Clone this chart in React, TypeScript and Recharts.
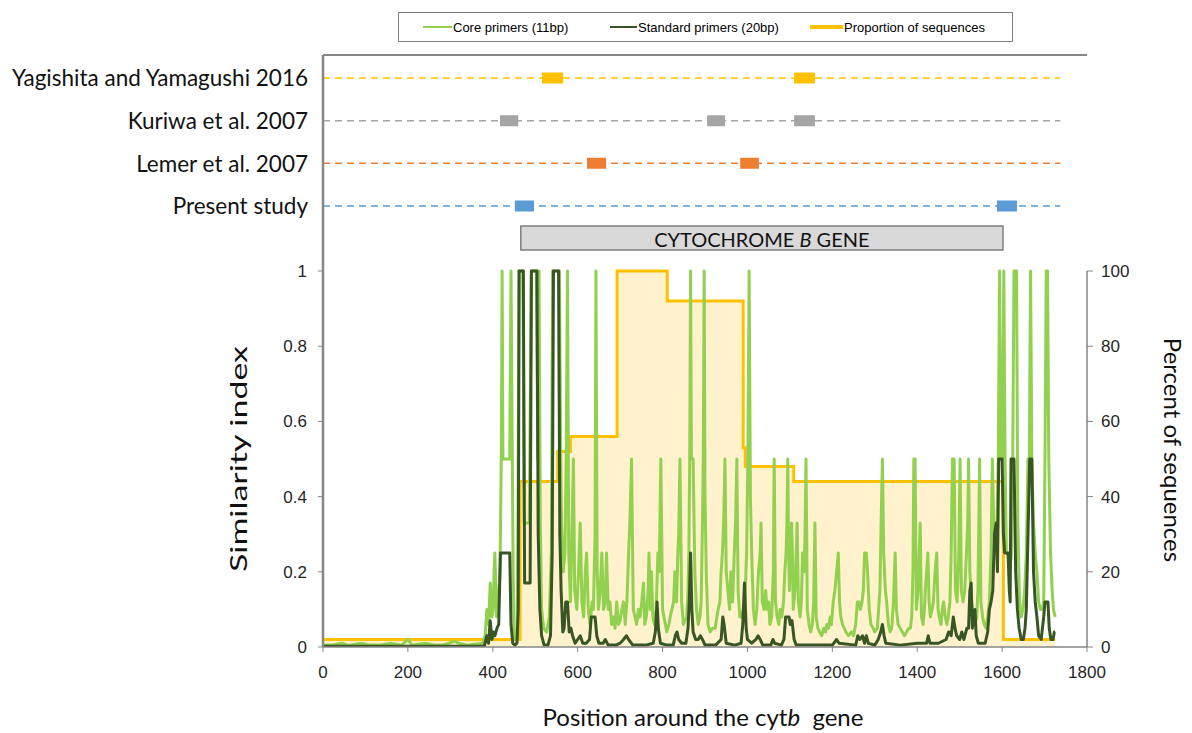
import React from "react";
import {
  ComposedChart,
  Area,
  Line,
  XAxis,
  YAxis,
  ReferenceArea,
  ReferenceLine,
} from "recharts";

// upper panel: primer sets, top to bottom
const studies = [
  "Yagishita and Yamagushi 2016",
  "Kuriwa et al. 2007",
  "Lemer et al. 2007",
  "Present study",
];

// primer binding sites [start, end] (bp) per study
const primerSites: [number, number][][] = [
  [[516, 566], [1110, 1159]],
  [[417, 460], [905, 947], [1110, 1159]],
  [[622, 667], [983, 1027]],
  [[452, 497], [1588, 1635]],
];

const alignmentLength = 1737;
const cytbGene: [number, number] = [466, 1602];

const seriesNames = [
  "Core primers (11bp)",
  "Standard primers (20bp)",
  "Proportion of sequences",
];

const positionTicks = [0, 200, 400, 600, 800, 1000, 1200, 1400, 1600, 1800];
const similarityTicks = [0, 0.2, 0.4, 0.6, 0.8, 1];
const percentTicks = [0, 20, 40, 60, 80, 100];

// percent of sequences covering each position (step changes)
const proportion: [number, number][] = [
  [0, 2], [464, 44], [553, 52], [583, 56], [693, 100], [811, 92],
  [990, 53], [995, 48], [1109, 44], [1603, 2], [1725, 2],
];

// similarity index, core primers (11bp)
const corePrimers: [number, number][] = [
  [0, 0.005], [20, 0.005], [45, 0.01], [60, 0.004], [90, 0.01], [110, 0.005],
  [140, 0.006], [160, 0.01], [185, 0.005], [200, 0.02], [210, 0.005], [240, 0.01],
  [265, 0.005], [285, 0.006], [310, 0.015], [320, 0.01], [340, 0.005], [360, 0.008],
  [376, 0.01], [382, 0.03], [386, 0.1], [390, 0.06], [394, 0.17], [398, 0.08],
  [401, 0.1], [403, 0.2], [405, 0.25], [409, 0.08], [413, 0.12], [417, 0.2],
  [420, 0.5], [422, 1], [424, 0.5], [440, 0.5], [443, 1], [446, 0.5], [448, 0.2],
  [451, 0.02], [458, 0.02], [462, 1], [471, 1], [474, 0.33], [486, 0.33], [491, 1],
  [503, 1], [506, 0.5], [509, 1], [512, 0.33], [515, 0.1], [520, 0.05], [527, 0.04],
  [533, 0.08], [538, 0.25], [541, 1], [557, 1], [560, 0.5], [562, 0.33], [566, 0.2],
  [570, 0.25], [573, 0.5], [576, 1], [579, 0.25], [583, 0.12], [587, 0.33], [590, 0.5],
  [593, 0.15], [598, 0.1], [602, 0.2], [606, 0.33], [610, 0.12], [614, 0.08], [618, 0.2],
  [621, 0.25], [625, 0.1], [629, 0.06], [634, 0.12], [637, 0.1], [641, 0.3], [643, 1],
  [646, 0.2], [649, 0.1], [653, 0.15], [657, 0.25], [661, 0.1], [665, 0.12], [668, 0.25],
  [672, 0.1], [676, 0.12], [680, 0.06], [684, 0.08], [688, 0.05], [692, 0.12], [696, 0.06],
  [700, 0.07], [704, 0.1], [708, 0.12], [712, 0.06], [716, 0.12], [720, 0.25], [723, 0.33],
  [727, 0.5], [731, 0.1], [735, 0.08], [739, 0.06], [743, 0.1], [747, 0.08], [751, 0.12],
  [755, 0.17], [758, 0.06], [762, 0.08], [766, 0.15], [768, 0.25], [771, 0.1], [774, 0.2],
  [777, 0.08], [781, 0.06], [785, 0.1], [789, 0.25], [792, 0.2], [796, 0.5], [800, 0.1],
  [805, 0.07], [810, 0.04], [815, 0.06], [818, 0.08], [822, 0.1], [826, 0.12], [829, 0.2],
  [833, 0.12], [836, 0.25], [838, 0.3], [841, 0.5], [845, 0.12], [849, 0.06], [853, 0.07],
  [857, 0.08], [860, 0.15], [862, 0.25], [864, 0.5], [866, 1], [868, 0.5], [872, 0.5],
  [876, 0.2], [880, 0.1], [884, 0.06], [888, 0.08], [891, 0.12], [894, 0.33], [896, 0.5],
  [898, 1], [900, 0.4], [903, 0.2], [907, 0.06], [912, 0.04], [918, 0.05], [924, 0.05],
  [928, 0.08], [931, 0.1], [935, 0.12], [938, 0.2], [941, 0.25], [944, 0.33], [947, 0.5],
  [950, 0.2], [954, 0.15], [958, 0.1], [961, 0.2], [965, 0.12], [969, 0.25], [972, 0.33],
  [975, 0.5], [978, 0.15], [982, 0.08], [986, 0.08], [990, 0.1], [994, 0.12], [998, 0.25],
  [1001, 0.5], [1004, 1], [1007, 0.4], [1010, 0.25], [1014, 0.1], [1018, 0.06], [1022, 0.1],
  [1026, 0.2], [1030, 0.25], [1032, 0.33], [1035, 0.12], [1039, 0.1], [1043, 0.15],
  [1046, 0.1], [1050, 0.12], [1053, 0.06], [1057, 0.08], [1061, 0.2], [1063, 0.5],
  [1066, 0.12], [1070, 0.08], [1074, 0.06], [1077, 0.1], [1081, 0.08], [1085, 0.12],
  [1088, 0.2], [1091, 0.25], [1093, 0.33], [1095, 0.5], [1097, 0.25], [1099, 0.15],
  [1102, 0.25], [1104, 0.33], [1106, 0.25], [1108, 0.1], [1112, 0.15], [1115, 0.25],
  [1117, 0.33], [1120, 0.12], [1124, 0.08], [1127, 0.12], [1130, 0.25], [1134, 0.2],
  [1136, 0.33], [1138, 0.5], [1141, 0.1], [1145, 0.06], [1149, 0.04], [1153, 0.06],
  [1156, 0.12], [1159, 0.33], [1162, 0.08], [1166, 0.05], [1170, 0.04], [1175, 0.03],
  [1180, 0.05], [1184, 0.04], [1187, 0.06], [1191, 0.05], [1195, 0.08], [1198, 0.06],
  [1202, 0.12], [1206, 0.15], [1210, 0.2], [1214, 0.25], [1217, 0.12], [1220, 0.08],
  [1224, 0.06], [1228, 0.05], [1232, 0.04], [1238, 0.03], [1245, 0.04], [1250, 0.03],
  [1255, 0.06], [1259, 0.12], [1263, 0.12], [1266, 0.1], [1270, 0.12], [1273, 0.15],
  [1276, 0.25], [1280, 0.25], [1283, 0.2], [1287, 0.1], [1291, 0.06], [1296, 0.05],
  [1300, 0.04], [1306, 0.05], [1309, 0.1], [1312, 0.15], [1315, 0.33], [1318, 0.5],
  [1321, 0.25], [1325, 0.15], [1328, 0.12], [1332, 0.06], [1336, 0.04], [1340, 0.05],
  [1344, 0.12], [1348, 0.25], [1351, 0.1], [1355, 0.06], [1360, 0.05], [1365, 0.04],
  [1370, 0.03], [1375, 0.04], [1380, 0.05], [1384, 0.05], [1387, 0.08], [1390, 0.2],
  [1392, 0.5], [1395, 0.5], [1398, 0.1], [1402, 0.15], [1405, 0.25], [1407, 0.33],
  [1410, 0.08], [1414, 0.06], [1417, 0.1], [1419, 0.15], [1422, 0.2], [1425, 0.25],
  [1428, 0.12], [1431, 0.08], [1435, 0.1], [1438, 0.12], [1442, 0.2], [1446, 0.25],
  [1449, 0.1], [1452, 0.08], [1456, 0.06], [1459, 0.1], [1462, 0.12], [1466, 0.08],
  [1470, 0.06], [1473, 0.08], [1477, 0.12], [1480, 0.25], [1483, 0.5], [1487, 0.5],
  [1490, 0.15], [1494, 0.12], [1498, 0.25], [1501, 0.5], [1504, 0.15], [1508, 0.12],
  [1512, 0.15], [1516, 0.25], [1519, 0.33], [1521, 0.5], [1524, 0.2], [1528, 0.12],
  [1532, 0.08], [1536, 0.06], [1540, 0.08], [1543, 0.15], [1547, 0.5], [1550, 0.12],
  [1554, 0.08], [1558, 0.06], [1562, 0.05], [1566, 0.08], [1570, 0.12], [1574, 0.25],
  [1577, 0.5], [1580, 0.33], [1584, 0.25], [1588, 0.33], [1591, 0.5], [1594, 1],
  [1597, 0.5], [1601, 0.5], [1604, 1], [1607, 0.5], [1610, 0.25], [1614, 0.25],
  [1618, 0.2], [1622, 0.25], [1625, 0.5], [1628, 1], [1634, 1], [1637, 0.33],
  [1641, 0.12], [1645, 0.08], [1649, 0.1], [1653, 0.15], [1657, 0.25], [1661, 0.5],
  [1664, 0.5], [1667, 1], [1670, 0.5], [1674, 0.33], [1678, 0.25], [1682, 0.2],
  [1686, 0.12], [1690, 0.1], [1694, 0.1], [1698, 0.12], [1701, 0.5], [1704, 1],
  [1707, 1], [1710, 0.5], [1714, 0.25], [1718, 0.15], [1721, 0.1], [1725, 0.08],
];

// similarity index, standard primers (20bp)
const standardPrimers: [number, number][] = [
  [0, 0.002], [380, 0.002], [386, 0.03], [390, 0.01], [394, 0.07], [398, 0.02],
  [402, 0.04], [405, 0.03], [410, 0.05], [414, 0.06], [418, 0.25], [440, 0.25],
  [443, 0.06], [447, 0.01], [452, 0.005], [457, 0.01], [460, 0.1], [462, 1], [472, 1],
  [475, 0.17], [488, 0.17], [491, 1], [504, 1], [507, 0.3], [511, 0.1], [515, 0.03],
  [521, 0.005], [530, 0.005], [536, 0.03], [540, 0.25], [543, 1], [555, 1], [558, 0.3],
  [561, 0.15], [565, 0.04], [568, 0.05], [572, 0.12], [576, 0.12], [580, 0.04],
  [584, 0.05], [588, 0.03], [594, 0.01], [600, 0.02], [606, 0.03], [612, 0.01],
  [620, 0.01], [628, 0.02], [632, 0.08], [641, 0.08], [645, 0.03], [650, 0.01],
  [660, 0.01], [665, 0.02], [672, 0.005], [690, 0.005], [700, 0.01], [708, 0.02],
  [715, 0.03], [720, 0.02], [730, 0.005], [760, 0.005], [778, 0.01], [783, 0.04],
  [787, 0.12], [790, 0.05], [795, 0.01], [810, 0.005], [825, 0.005], [830, 0.03],
  [834, 0.04], [838, 0.02], [845, 0.01], [855, 0.01], [860, 0.05], [863, 0.12],
  [866, 0.25], [869, 0.1], [872, 0.04], [878, 0.02], [884, 0.02], [889, 0.03],
  [894, 0.02], [900, 0.005], [925, 0.005], [938, 0.02], [942, 0.08], [945, 0.06],
  [950, 0.01], [970, 0.005], [985, 0.01], [989, 0.06], [993, 0.17], [997, 0.05],
  [1000, 0.02], [1010, 0.01], [1020, 0.02], [1025, 0.03], [1030, 0.02], [1036, 0.005],
  [1055, 0.005], [1060, 0.02], [1064, 0.01], [1080, 0.005], [1086, 0.02], [1090, 0.08],
  [1098, 0.08], [1101, 0.06], [1105, 0.07], [1110, 0.02], [1115, 0.005], [1200, 0.005],
  [1210, 0.02], [1216, 0.01], [1255, 0.005], [1260, 0.03], [1265, 0.02], [1271, 0.03],
  [1276, 0.01], [1280, 0.03], [1285, 0.01], [1300, 0.005], [1308, 0.02], [1314, 0.04],
  [1318, 0.06], [1322, 0.03], [1326, 0.01], [1360, 0.005], [1400, 0.01], [1422, 0.01],
  [1426, 0.03], [1430, 0.01], [1450, 0.01], [1468, 0.02], [1474, 0.04], [1480, 0.03],
  [1485, 0.08], [1489, 0.05], [1493, 0.03], [1500, 0.02], [1505, 0.04], [1510, 0.02],
  [1517, 0.05], [1521, 0.05], [1524, 0.15], [1527, 0.17], [1530, 0.05], [1533, 0.08],
  [1536, 0.1], [1539, 0.03], [1544, 0.01], [1560, 0.01], [1566, 0.04], [1570, 0.1],
  [1574, 0.12], [1578, 0.15], [1582, 0.3], [1586, 0.33], [1589, 0.2], [1592, 0.5],
  [1600, 0.5], [1603, 0.3], [1606, 0.25], [1614, 0.25], [1617, 0.15], [1619, 0.12],
  [1621, 0.5], [1628, 0.5], [1632, 0.2], [1636, 0.1], [1640, 0.05], [1645, 0.02],
  [1650, 0.02], [1654, 0.05], [1657, 0.1], [1660, 0.25], [1665, 0.5], [1670, 0.5],
  [1674, 0.2], [1678, 0.12], [1682, 0.08], [1686, 0.03], [1692, 0.02], [1698, 0.08],
  [1701, 0.12], [1708, 0.12], [1711, 0.05], [1715, 0.02], [1720, 0.02], [1723, 0.04],
  [1725, 0.04],
];

// ---- styling / layout ----
const W = 1192;
const H = 733;
const AXIS = "#868686";
const SERIES_COLORS = ["#92D050", "#375623", "#FFC000"];
const STUDY_COLORS = ["#FFC000", "#A5A5A5", "#ED7D31", "#5B9BD5"];
const TICK_FONT = "'Liberation Sans', Arial, sans-serif";
const TITLE_FONT = "Lato, 'Open Sans', sans-serif";
const TICK = { fill: "#262626", fontSize: 17, fontFamily: TICK_FONT };
// left axis runs up through the primer panel, so its domain goes past 1
const SIM_MAX = 1.5745;
const PCT_MAX = 157.45;
// hidden axis for the primer rows (row n sits at value n)
const ROW_DOMAIN: [number, number] = [-9.336, 4.539];
const LEGEND_POS = [
  { left: 24, width: 29, thick: 2.5 },
  { left: 211, width: 27, thick: 2.5 },
  { left: 411, width: 33, thick: 4 },
];

function XTitle() {
  return (
    <text
      x={703}
      y={726}
      textAnchor="middle"
      fontFamily={TITLE_FONT}
      fontSize={24}
      fill="#111"
      xmlSpace="preserve"
      style={{ whiteSpace: "pre" }}
    >
      {"Position around the cyt"}
      <tspan fontStyle="italic">b</tspan>
      {"  gene"}
    </text>
  );
}

function SimTitle() {
  return (
    <text
      transform="translate(237,459) rotate(-90)"
      textAnchor="middle"
      dominantBaseline="central"
      fontFamily={TITLE_FONT}
      fontSize={24}
      fill="#111"
      textLength={226}
      lengthAdjust="spacingAndGlyphs"
    >
      Similarity index
    </text>
  );
}

function PctTitle() {
  return (
    <text
      transform="translate(1173,450) rotate(90)"
      textAnchor="middle"
      dominantBaseline="central"
      fontFamily={TITLE_FONT}
      fontSize={24}
      fill="#111"
    >
      Percent of sequences
    </text>
  );
}

function GeneText(props: any) {
  const vb = props.viewBox || { x: 0, y: 0, width: 0, height: 0 };
  return (
    <text
      x={vb.x + vb.width / 2}
      y={vb.y + vb.height / 2 + 1}
      textAnchor="middle"
      dominantBaseline="central"
      fontFamily={TITLE_FONT}
      fontSize={20}
      fill="#111"
    >
      {"CYTOCHROME "}
      <tspan fontStyle="italic">B</tspan>
      {" GENE"}
    </text>
  );
}

export default function App() {
  const propData = proportion.map(([pos, v]) => ({ pos, v }));
  const coreData = corePrimers.map(([pos, v]) => ({ pos, v }));
  const stdData = standardPrimers.map(([pos, v]) => ({ pos, v }));

  return (
    <div
      style={{
        position: "absolute",
        left: 0,
        top: 0,
        width: W,
        height: H,
        background: "#fff",
      }}
    >
      <ComposedChart
        width={W}
        height={H}
        margin={{ top: 55, right: 0, bottom: 0, left: 0 }}
      >
        <XAxis
          type="number"
          dataKey="pos"
          domain={[0, 1800]}
          ticks={positionTicks}
          allowDataOverflow
          height={86}
          stroke={AXIS}
          axisLine={{ stroke: AXIS, strokeWidth: 1.5 }}
          tickLine={{ stroke: AXIS }}
          tickSize={5}
          tickMargin={14}
          tick={TICK}
          label={<XTitle />}
        />
        <YAxis
          yAxisId="sim"
          type="number"
          domain={[0, SIM_MAX]}
          ticks={similarityTicks}
          allowDataOverflow
          width={323}
          axisLine={{ stroke: AXIS, strokeWidth: 2.5 }}
          tickLine={{ stroke: AXIS }}
          tickSize={5}
          tickMargin={11}
          tick={TICK}
          label={<SimTitle />}
        />
        <YAxis
          yAxisId="pct"
          orientation="right"
          type="number"
          domain={[0, PCT_MAX]}
          ticks={percentTicks}
          allowDataOverflow
          width={105}
          axisLine={false}
          tickLine={{ stroke: AXIS }}
          tickSize={6}
          tickMargin={8}
          tick={TICK}
          label={<PctTitle />}
        />
        <YAxis
          yAxisId="rows"
          type="number"
          hide
          width={0}
          domain={ROW_DOMAIN}
          allowDataOverflow
        />

        {/* frame: top edge of the primer panel and right axis line */}
        <ReferenceLine yAxisId="sim" y={SIM_MAX} stroke={AXIS} strokeWidth={2} />
        <ReferenceLine
          yAxisId="sim"
          segment={[
            { x: 1800, y: 0 },
            { x: 1800, y: 1 },
          ]}
          stroke={AXIS}
          strokeWidth={1.5}
        />

        <ReferenceArea
          yAxisId="rows"
          x1={cytbGene[0]}
          x2={cytbGene[1]}
          y1={-0.03}
          y2={0.53}
          fill="#D9D9D9"
          fillOpacity={1}
          stroke="#7F7F7F"
          strokeWidth={1.5}
          ifOverflow="visible"
          label={<GeneText />}
        />

        <Area
          yAxisId="pct"
          data={propData}
          dataKey="v"
          type="stepAfter"
          stroke={SERIES_COLORS[2]}
          strokeWidth={3}
          fill="#FFF2CC"
          fillOpacity={1}
          dot={false}
          activeDot={false}
          isAnimationActive={false}
        />
        <Line
          yAxisId="sim"
          data={coreData}
          dataKey="v"
          type="linear"
          stroke={SERIES_COLORS[0]}
          strokeWidth={3}
          strokeLinejoin="round"
          dot={false}
          activeDot={false}
          isAnimationActive={false}
        />
        <Line
          yAxisId="sim"
          data={stdData}
          dataKey="v"
          type="linear"
          stroke={SERIES_COLORS[1]}
          strokeWidth={3}
          strokeLinejoin="round"
          dot={false}
          activeDot={false}
          isAnimationActive={false}
        />

        {studies.map((name, i) => {
          const row = studies.length - i;
          return (
            <Line
              key={"row-" + name}
              yAxisId="rows"
              data={[
                { pos: 0, r: row },
                { pos: alignmentLength, r: row },
              ]}
              dataKey="r"
              stroke={STUDY_COLORS[i]}
              strokeWidth={1.5}
              strokeDasharray="7 5"
              dot={false}
              activeDot={false}
              isAnimationActive={false}
              label={(p: any) =>
                p.index === 0 ? (
                  <text
                    key={"lbl-" + name}
                    x={p.x - 15}
                    y={p.y}
                    textAnchor="end"
                    dominantBaseline="central"
                    fontFamily={TITLE_FONT}
                    fontSize={22.5}
                    fill="#111"
                  >
                    {name}
                  </text>
                ) : null
              }
            />
          );
        })}
        {primerSites.map((sites, i) => {
          const row = studies.length - i;
          const data = sites.flatMap(([s, e]) => [
            { pos: s, r: row },
            { pos: e, r: row },
            { pos: e, r: null },
          ]);
          return (
            <Line
              key={"sites-" + i}
              yAxisId="rows"
              data={data}
              dataKey="r"
              stroke={STUDY_COLORS[i]}
              strokeWidth={11}
              strokeLinecap="butt"
              dot={false}
              activeDot={false}
              connectNulls={false}
              isAnimationActive={false}
            />
          );
        })}
      </ComposedChart>

      <div
        style={{
          position: "absolute",
          left: 398,
          top: 12,
          width: 615,
          height: 30,
          border: "1px solid #7F7F7F",
          boxSizing: "border-box",
          fontFamily: TICK_FONT,
          fontSize: 13,
          color: "#000",
        }}
      >
        {seriesNames.map((name, i) => (
          <div
            key={name}
            style={{
              position: "absolute",
              left: LEGEND_POS[i].left,
              top: 0,
              height: 28,
              display: "flex",
              alignItems: "center",
              whiteSpace: "nowrap",
            }}
          >
            <span
              style={{
                display: "inline-block",
                width: LEGEND_POS[i].width,
                height: 0,
                borderTop: `${LEGEND_POS[i].thick}px solid ${SERIES_COLORS[i]}`,
                marginRight: 1,
              }}
            />
            <span>{name}</span>
          </div>
        ))}
      </div>
    </div>
  );
}
